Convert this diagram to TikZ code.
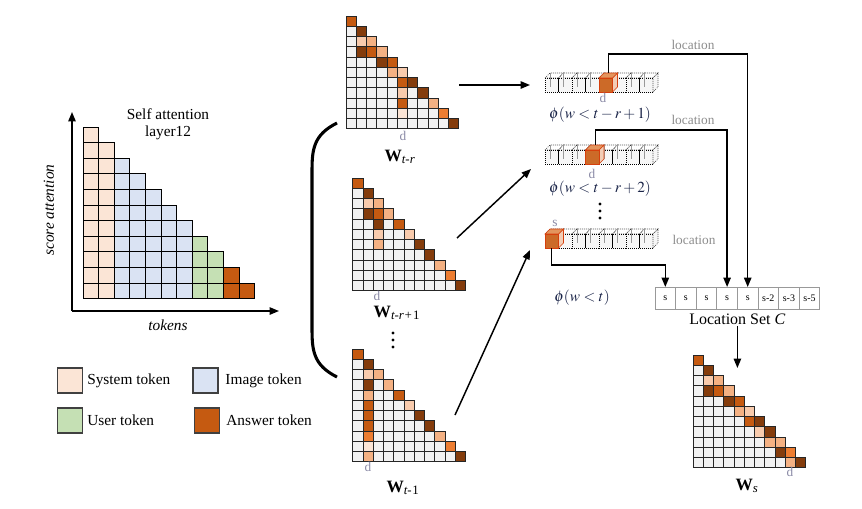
\documentclass[tikz,border=0pt]{standalone}
\usepackage{mathptmx}
\usepackage[no-math]{fontspec}
\setmainfont{Liberation Serif}
\usetikzlibrary{arrows.meta,positioning}
\definecolor{ca}{HTML}{C55A11}
\definecolor{cb}{HTML}{843C0C}
\definecolor{cp}{HTML}{F4B183}
\definecolor{cl}{HTML}{F8CBAD}
\definecolor{cv}{HTML}{FBE5D6}
\definecolor{co}{HTML}{ED7D31}
\definecolor{cg}{HTML}{F2F2F2}
\definecolor{csys}{HTML}{FBE5D6}
\definecolor{cimg}{HTML}{DAE3F3}
\definecolor{cusr}{HTML}{C5E0B4}
\definecolor{cans}{HTML}{C55A11}
\definecolor{labgray}{HTML}{8C8C8C}
\definecolor{dgray}{HTML}{8A8AA6}
\definecolor{phiblue}{HTML}{1A2448}
\definecolor{cubefront}{HTML}{F6F6F6}
\definecolor{hotfront}{HTML}{CC6A28}
\definecolor{hottop}{HTML}{E3955E}
\definecolor{hotside}{HTML}{F2CDB6}
\def\cs{10.25}
\def\vw{13.5}

% attention triangle: name, x, y (top left), coloured cells row/col/colour
\newcommand{\attgrid}[4]{%
  \begin{scope}[shift={(#2,#3)}]
    \foreach \r in {1,...,11}
      \foreach \c in {1,...,\r}
        \draw[cellgrid, fill=cg] ({(\c-1)*\cs},{(\r-1)*\cs}) rectangle ++(\cs,\cs);
    \foreach \r/\c/\k in {#4}
      \draw[cellgrid, fill=\k] ({(\c-1)*\cs},{(\r-1)*\cs}) rectangle ++(\cs,\cs);
    \node[inner sep=0pt, minimum width=84.6pt, minimum height=84.6pt, anchor=north west] (#1) at (0,0) {};
  \end{scope}}

% row of 8 cubes: name, x, y (front top left), index of the selected cube
\newcommand{\tokenrow}[4]{%
  \begin{scope}[shift={(#2,#3)}]
    \foreach \i in {1,...,8} {
      \draw[cubeline, fill=white] ({(\i-1)*\vw},0) -- ++(5,-5) -- ++(\vw,0) -- ++(-5,5) -- cycle;
      \draw[cubeline, fill=cubefront] ({(\i-1)*\vw},0) rectangle ++(\vw,14);
      \draw[cubeback] ({(\i-1)*\vw+5},-5) -- ++(0,14);
    }
    \draw[cubeline, fill=cubefront] ({8*\vw},0) -- ++(5,-5) -- ++(0,14) -- ++(-5,5) -- cycle;
    \draw[hotline, fill=hotside] ({#4*\vw},0) -- ++(5,-5) -- ++(0,14) -- ++(-5,5) -- cycle;
    \draw[hotline, fill=hottop] ({(#4-1)*\vw},0) -- ++(5,-5) -- ++(\vw,0) -- ++(-5,5) -- cycle;
    \draw[hotline, fill=hotfront] ({(#4-1)*\vw},0) rectangle ++(\vw,14);
    \coordinate (#1-top) at ({(#4-0.5)*\vw+3},-5);
    \coordinate (#1-bot) at ({(#4-0.5)*\vw},14);
    \node[inner sep=0pt, minimum width=81pt, minimum height=10.5pt, anchor=north west] (#1) at (0,0) {};
  \end{scope}}

\begin{document}
\begin{tikzpicture}[x=0.75pt, y=-0.75pt,
  every node/.style={font=\fontsize{11.5}{13}\selectfont, inner sep=1pt},
  cellgrid/.style={draw=black!85, line width=0.5pt},
  bigcell/.style={draw=black, line width=0.75pt},
  cubeline/.style={draw=black, densely dotted, line width=0.5pt},
  cubeback/.style={draw=black!40, line width=0.3pt},
  hotline/.style={draw=ca!70!red, line width=0.45pt},
  arr/.style={-{Triangle[length=7pt,width=5.5pt]}, line width=1.1pt},
  axis/.style={-{Triangle[length=7pt,width=5.5pt]}, line width=1.1pt},
  legbox/.style={draw=black!75, line width=0.8pt, minimum size=18.75pt, inner sep=0pt},
  setcell/.style={draw=black!40, line width=0.5pt, fill=white, minimum width=15.45pt, minimum height=16.5pt, inner sep=0pt, outer sep=0pt, font=\fontsize{7.5}{8}\selectfont},
  dlab/.style={text=dgray, font=\fontsize{10}{11}\selectfont, inner sep=0pt},
  loclab/.style={text=labgray, font=\fontsize{10}{11}\selectfont},
  phi/.style={text=phiblue, font=\fontsize{11.5}{13}\selectfont},
  wlab/.style={font=\fontsize{13}{14}\selectfont}
]
\useasboundingbox (0,0) rectangle (862,508);

% self attention chart
\foreach \c/\k in {1/csys,2/csys,3/cimg,4/cimg,5/cimg,6/cimg,7/cimg,8/cusr,9/cusr,10/cans,11/cans}
  \foreach \r in {\c,...,11}
    \draw[bigcell, fill=\k] ({83+(\c-1)*15.6},{127+(\r-1)*15.6}) rectangle ++(15.6,15.6);
\coordinate (o) at (72,311);
\coordinate (ytop) at (72,112);
\coordinate (xend) at (279,311);
\draw[axis] (o) -- (ytop);
\draw[axis] (o) -- (xend);
\node[align=center] (title) at (168,124) {Self attention\\layer12};
\node[rotate=90, font=\fontsize{11.5}{13}\selectfont\itshape] (ylab) at (49,210) {score attention};
\node[font=\fontsize{11.5}{13}\selectfont\itshape] (xlab) at (168,325) {tokens};

% legend
\node[legbox, fill=csys] (lsys) at (70,380.5) {};
\node[right=2pt of lsys] (lsyst) {System token};
\node[legbox, fill=cimg] (limg) at (205.5,380.5) {};
\node[right=4pt of limg] (limgt) {Image token};
\node[legbox, fill=cusr] (lusr) at (70,420.5) {};
\node[right=2pt of lusr] (lusrt) {User token};
\node[legbox, fill=cans] (lans) at (207,420.5) {};
\node[right=3.5pt of lans] (lanst) {Answer token};

% attention maps
\attgrid{t1}{346}{16}{1/1/ca,2/2/cb,3/2/cl,3/3/cp,4/2/cb,4/3/ca,4/4/cp,5/4/cb,5/5/ca,6/5/cp,6/6/cl,7/6/ca,7/7/cb,8/6/cl,8/8/cb,9/6/ca,9/9/cp,10/6/cv,10/10/co,11/11/cb}
\attgrid{t2}{352.7}{178}{1/1/ca,2/2/cb,3/2/cl,3/3/cp,4/2/cb,4/3/ca,4/4/cp,5/3/cb,5/5/ca,6/3/cl,6/6/cl,7/3/cp,7/7/cb,8/8/cb,9/9/cp,10/10/co,11/11/cb}
\attgrid{t3}{352.7}{349}{1/1/ca,2/2/cb,3/2/cl,3/3/cp,4/2/cb,4/4/cp,5/2/cp,5/5/ca,6/2/ca,6/6/cl,7/2/ca,7/7/cb,8/2/ca,8/8/cb,9/2/co,9/9/cp,10/2/cv,10/10/co,11/2/cp,11/11/cb}
\attgrid{ws}{693}{355}{1/1/ca,2/2/cb,3/2/cl,3/3/cp,4/2/cb,4/3/ca,4/4/cp,5/4/cb,5/5/ca,6/5/cp,6/6/cl,7/6/ca,7/7/cb,8/7/cl,8/8/cb,9/8/cp,9/9/cp,10/9/cb,10/10/co,11/10/cp,11/11/cb}

\node[dlab] (d1) at (403,136) {d};
\node[wlab] (w1) at (400,157) {\textbf{W}\textsubscript{\itshape t-r}};
\node[dlab] (d2) at (377,296) {d};
\node[wlab] (w2) at (397,313) {\textbf{W}\textsubscript{\itshape t-r+}\textsubscript{1}};
\node[dlab] (d3) at (368,467) {d};
\node[wlab] (w3) at (403,488) {\textbf{W}\textsubscript{\itshape t-}\textsubscript{1}};
\node[dlab] (d4) at (790,472) {d};
\node[wlab] (w4) at (747,486) {\textbf{W}\textsubscript{\itshape s}};

% bracket and dots
\draw[line width=2.3pt] (337,123) .. controls (313,135) and (312,150) .. (312,172) -- (312,328) .. controls (312,350) and (313,365) .. (337,377);
\foreach \y in {333,340,347} \fill (393,\y) circle (1.6);
\foreach \y in {204,211,218} \fill (600,\y) circle (1.6);

% token rows
\tokenrow{v1}{545}{78}{5}
\tokenrow{v2}{545}{150}{4}
\tokenrow{v3}{545}{234}{1}
\node[dlab] (dv1) at (603,98) {d};
\node[phi] (p1) at (600,115) {$\phi\!\left(w<t-r+1\right)$};
\node[dlab] (dv2) at (592,174) {d};
\node[phi] (p2) at (600,189) {$\phi\!\left(w<t-r+2\right)$};
\node[dlab] (sv3) at (555,223) {s};
\node[phi] (p3) at (582,298) {$\phi\!\left(w<t\right)$};

% arrows into the rows
\coordinate (a1) at (530,85);
\coordinate (a2) at (531,169);
\coordinate (a3) at (530,250);
\coordinate (s2) at (457,238);
\coordinate (s3) at (455,415);
\draw[arr] (t1.east |- a1) -- (a1);
\draw[arr] (s2) -- (a2);
\draw[arr] (s3) -- (a3);

% location set
\node[setcell] (c1) at (665.3,298) {s};
\foreach \t [count=\i from 2, evaluate=\i as \j using int(\i-1)] in {s,s,s,s,s-2,s-3,s-5}
  \node[setcell, right=0pt of c\j] (c\i) {\t};
\node[below=2.5pt of c4.south east, font=\fontsize{12}{13}\selectfont] (cset) {Location Set \textit{C}};

\draw[arr] (v1-top) -- ++(0,-19) -| (c5.north);
\draw[arr] (v2-top) -- ++(0,-15) -| (c4.north);
\draw[arr] (v3-bot) -- ++(0,17) -| (c1.north);
\node[loclab] (loc1) at (693,45) {location};
\node[loclab] (loc2) at (693,120) {location};
\node[loclab] (loc3) at (694,240) {location};

\coordinate (wsin) at (cset.south |- 0,368);
\draw[arr] (cset.south) -- (wsin);
\end{tikzpicture}
\end{document}
